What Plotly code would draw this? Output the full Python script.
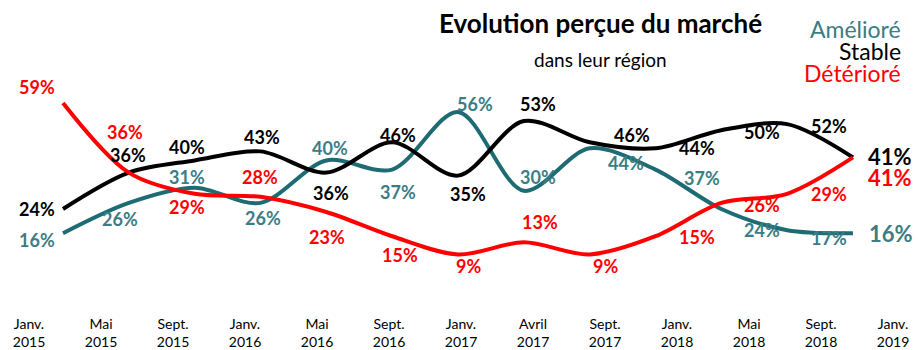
import plotly.graph_objects as go

# Survey waves (x-axis) and the share of respondents per perceived market trend
periods = ["Janv.<br>2015", "Mai<br>2015", "Sept.<br>2015", "Janv.<br>2016", "Mai<br>2016",
           "Sept.<br>2016", "Janv.<br>2017", "Avril<br>2017", "Sept.<br>2017", "Janv.<br>2018",
           "Mai<br>2018", "Sept.<br>2018", "Janv.<br>2019"]
ameliore = [16, 26, 31, 26, 40, 37, 56, 30, 44, 37, 24, 17, 16]
stable = [24, 36, 40, 43, 36, 46, 35, 53, 46, 44, 50, 52, 41]
deteriore = [59, 36, 29, 28, 23, 15, 9, 13, 9, 15, 26, 29, 41]

# Pixel offsets of each value label relative to its point
off_ameliore = [(-26, 7), (-9, 16), (-8, -11), (3, 15), (4, -12), (6, 22), (17, -8),
                (14, -14), (36, 15), (47, 8), (41, 21), (42, 8), (38, 0)]
off_stable = [(-26, 0), (-1, -18), (-8, -13), (2, -14), (5, 20), (6, -7), (10, 18),
              (14, -17), (42, -7), (42, 0), (41, 2), (42, 2), (37, -1)]
off_deteriore = [(-26, -16), (-4, -41), (-8, 13), (0, -20), (1, 25), (8, 19), (11, 12),
                 (16, -20), (16, 12), (42, 1), (41, 2), (42, 0), (37, 20)]

TEAL_LINE = "#1E6B73"
TEAL_TEXT = "#3A7D85"
BLACK = "#000000"
RED = "#FF0000"
FONT = "Lato"
PLOT_H = 310  # height of the plotting area in pixels

idx = list(range(len(periods)))

fig = go.Figure()
series = [
    (ameliore, TEAL_LINE, TEAL_TEXT, off_ameliore),
    (stable, BLACK, BLACK, off_stable),
    (deteriore, RED, RED, off_deteriore),
]
for values, lcol, tcol, offs in series:
    fig.add_trace(go.Scatter(
        x=idx, y=values, mode="lines",
        line=dict(color=lcol, width=4, shape="spline", smoothing=0.9),
        showlegend=False, hoverinfo="skip",
    ))
    for i, (v, (dx, dy)) in enumerate(zip(values, offs)):
        last = i == len(values) - 1
        fig.add_annotation(
            x=i, y=v, xref="x", yref="y", text=f"{v}%", showarrow=False,
            xshift=dx, yshift=-dy, xanchor="center", yanchor="middle",
            font=dict(family=FONT, size=22 if last else 18, color=tcol, weight="bold"),
        )

# Secondary x-axis carrying the period labels
fig.add_trace(go.Scatter(x=idx, y=[None] * len(idx), xaxis="x2", mode="lines",
                         showlegend=False, hoverinfo="skip"))

fig.add_annotation(text="<b>Evolution perçue du marché</b>", xref="paper", yref="paper",
                   x=600 / 918, y=1 - 23 / PLOT_H, xanchor="center", yanchor="middle",
                   showarrow=False, font=dict(family=FONT, size=26, color="#000000"))
fig.add_annotation(text="dans leur région", xref="paper", yref="paper",
                   x=600 / 918, y=1 - 60 / PLOT_H, xanchor="center", yanchor="middle",
                   showarrow=False, font=dict(family=FONT, size=19, color="#000000"))

legend_items = [("Amélioré", TEAL_TEXT, 29), ("Stable", BLACK, 51), ("Détérioré", RED, 74)]
for name, col, ypx in legend_items:
    fig.add_annotation(text=name, xref="paper", yref="paper", x=903 / 918, y=1 - ypx / PLOT_H,
                       xanchor="right", yanchor="middle", showarrow=False,
                       font=dict(family=FONT, size=23, color=col))

fig.update_layout(
    width=918, height=350,
    margin=dict(l=0, r=0, t=0, b=350 - PLOT_H),
    paper_bgcolor="white", plot_bgcolor="white",
    xaxis=dict(range=[-0.957, 12.988], visible=False, fixedrange=True),
    xaxis2=dict(range=[-0.4028, 12.347], overlaying="x", side="bottom", anchor="y",
                tickmode="array", tickvals=idx, ticktext=periods,
                showgrid=False, zeroline=False, showline=False, ticks="",
                ticklabelstandoff=7,
                tickfont=dict(family=FONT, size=14, color="#000000"), fixedrange=True),
    yaxis=dict(range=[-8.35, 92.95], visible=False, fixedrange=True),
)

fig.write_html("out.html")
